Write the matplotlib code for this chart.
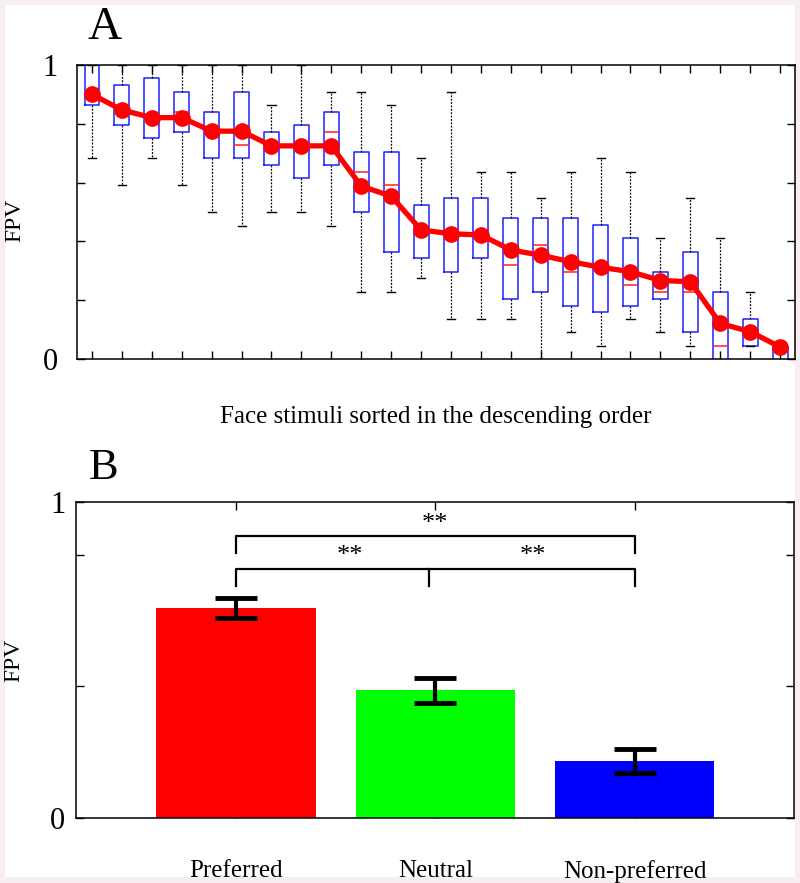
import matplotlib
matplotlib.use("Agg")
import matplotlib.pyplot as plt
from matplotlib.patches import Rectangle

plt.rcParams['font.family'] = ['Liberation Serif', 'DejaVu Serif']

# ---------------- Panel A data (24 face stimuli) ----------------
stim_index = list(range(1, 25))
means   = [0.900, 0.847, 0.821, 0.821, 0.775, 0.775, 0.725, 0.725, 0.725, 0.588, 0.554, 0.439,
           0.426, 0.422, 0.371, 0.353, 0.331, 0.312, 0.297, 0.267, 0.263, 0.121, 0.093, 0.041]
medians = [0.900, 0.847, 0.821, 0.841, 0.775, 0.728, 0.725, 0.725, 0.773, 0.637, 0.593, 0.439,
           0.426, 0.422, 0.319, 0.387, 0.296, 0.312, 0.251, 0.227, 0.227, 0.045, 0.093, 0.041]
q1      = [0.865, 0.796, 0.750, 0.773, 0.682, 0.682, 0.659, 0.614, 0.659, 0.500, 0.363, 0.342,
           0.295, 0.342, 0.204, 0.227, 0.182, 0.159, 0.182, 0.204, 0.091, -0.05, 0.045, -0.05]
q3      = [1.000, 0.932, 0.955, 0.909, 0.841, 0.909, 0.773, 0.796, 0.841, 0.705, 0.705, 0.523,
           0.546, 0.546, 0.478, 0.478, 0.478, 0.455, 0.410, 0.296, 0.363, 0.227, 0.136, 0.042]
whis_lo = [0.682, 0.591, 0.682, 0.591, 0.500, 0.454, 0.500, 0.500, 0.454, 0.227, 0.227, 0.274,
           0.136, 0.136, 0.136, 0.000, 0.091, 0.045, 0.136, 0.091, 0.045, -0.05, 0.045, -0.05]
whis_hi = [1.000, 1.000, 1.000, 1.000, 1.000, 1.000, 0.864, 1.000, 0.909, 0.909, 0.864, 0.682,
           0.909, 0.637, 0.637, 0.546, 0.637, 0.682, 0.637, 0.410, 0.546, 0.410, 0.227, 0.042]

# ---------------- Panel B data ----------------
categories = ['Preferred', 'Neutral', 'Non-preferred']
bar_values = [0.665, 0.404, 0.181]
bar_errors = [0.031, 0.040, 0.037]
bar_colors = ['#ff0000', '#00ff00', '#0000ff']

fig = plt.figure(figsize=(8.0, 8.83), dpi=100, facecolor='#f7efef')
fig.patches.append(Rectangle((5/800, 6/883), 790/800, 872/883, transform=fig.transFigure,
                             facecolor='white', edgecolor='none', zorder=-10))

# ---------------- Panel A ----------------
axA = fig.add_axes([0.0963, 0.5934, 0.8975, 0.3330])
stats = []
for i in range(len(stim_index)):
    stats.append(dict(med=medians[i], q1=q1[i], q3=q3[i], whislo=whis_lo[i], whishi=whis_hi[i],
                      fliers=[]))
axA.bxp(stats, positions=stim_index, widths=0.5, showfliers=False, manage_ticks=False,
        boxprops=dict(color='#2020ff', linewidth=1.1),
        medianprops=dict(color='#ff2020', linewidth=1.1),
        whiskerprops=dict(color='black', linewidth=0.9, linestyle=(0, (1.5, 1.2))),
        capprops=dict(color='black', linewidth=1.0), capwidths=0.27)
axA.plot(stim_index, means, color='#ff0000', linewidth=3.8, marker='o', markersize=11,
         zorder=5, clip_on=False)
axA.set_xlim(0.5, 24.5)
axA.set_ylim(0, 1)
axA.set_xticks(stim_index)
axA.set_xticklabels([])
axA.set_yticks([0, 0.2, 0.4, 0.6, 0.8, 1.0])
axA.set_yticklabels(['0', '', '', '', '', '1'], fontsize=22)
axA.tick_params(direction='in', top=True, right=True, length=6, width=1, pad=14)
axA.set_ylabel('FPV', fontsize=17)
axA.yaxis.set_label_coords(-0.072, 0.47)
axA.set_xlabel('Face stimuli sorted in the descending order', fontsize=18, labelpad=20)
for s in axA.spines.values():
    s.set_linewidth(1.1)
fig.text(105/800, 1 - 39/883, 'A', fontsize=34, ha='center', va='baseline')

# ---------------- Panel B ----------------
axB = fig.add_axes([0.0956, 0.0736, 0.8969, 0.3575])
xpos = [1, 2, 3]
axB.bar(xpos, bar_values, width=0.8, color=bar_colors, zorder=2)
axB.errorbar(xpos, bar_values, yerr=bar_errors, fmt='none', ecolor='black', elinewidth=3,
             capsize=15, capthick=3.5, zorder=3)
axB.set_xlim(0.2, 3.8)
axB.set_ylim(0, 1)
axB.set_xticks(xpos)
axB.set_xticklabels(categories, fontsize=18)
axB.set_yticks([0, 5/12, 10/12, 1.0])
axB.set_yticklabels(['0', '', '', '1'], fontsize=22)
axB.tick_params(axis='y', direction='in', right=True, length=6, width=1, pad=8)
axB.tick_params(axis='x', direction='in', top=True, length=6, width=1, pad=30)
axB.set_ylabel('FPV', fontsize=17)
axB.yaxis.set_label_coords(-0.072, 0.5)
for s in axB.spines.values():
    s.set_linewidth(1.1)

# significance brackets
lw_b = 1.6
axB.plot([1, 1, 3, 3], [0.838, 0.893, 0.893, 0.838], color='black', lw=lw_b)
axB.text(2, 0.93, '**', ha='center', va='center', fontsize=19)
axB.plot([1, 1, 3, 3], [0.736, 0.7875, 0.7875, 0.736], color='black', lw=lw_b)
axB.plot([1.97, 1.97], [0.7875, 0.736], color='black', lw=lw_b)
axB.text(1.57, 0.83, '**', ha='center', va='center', fontsize=19)
axB.text(2.49, 0.83, '**', ha='center', va='center', fontsize=19)
fig.text(104/800, 1 - 479/883, 'B', fontsize=32, ha='center', va='baseline')

fig.savefig('out.png', dpi=100, facecolor=fig.get_facecolor())
